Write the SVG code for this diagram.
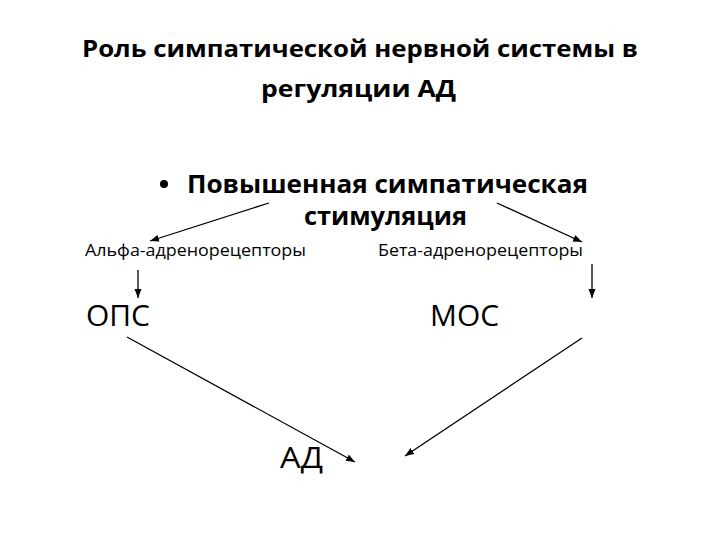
<svg xmlns="http://www.w3.org/2000/svg" width="720" height="540" viewBox="0 0 720 540">
  <style>
    text { font-family: "Open Sans", "Noto Sans", "Liberation Sans", sans-serif; fill: #000; }
    .title { font-size: 24px; font-weight: 700; }
    .bullet { font-size: 25px; font-weight: 700; }
    .rec { font-size: 16px; }
    .big { font-size: 29px; }
    .conn line { stroke: #000; stroke-width: 1.3; fill: none; marker-end: url(#arrow); }
  </style>
  <defs>
    <marker id="arrow" markerUnits="userSpaceOnUse" markerWidth="10" markerHeight="8" refX="9" refY="3.5" orient="auto">
      <path d="M0,0 L9,3.5 L0,7 z" fill="#000"/>
    </marker>
  </defs>
  <rect width="720" height="540" fill="#fff"/>

  <g id="title">
    <text class="title" x="82" y="57" textLength="556" lengthAdjust="spacingAndGlyphs">Роль симпатической нервной системы в</text>
    <text class="title" x="261" y="97" textLength="195" lengthAdjust="spacingAndGlyphs">регуляции АД</text>
  </g>

  <g id="stimulation">
    <circle cx="164" cy="184" r="4" fill="#000"/>
    <text class="bullet" x="187" y="193" textLength="401" lengthAdjust="spacingAndGlyphs">Повышенная симпатическая</text>
    <text class="bullet" x="304" y="225" textLength="163" lengthAdjust="spacingAndGlyphs">стимуляция</text>
  </g>

  <g id="alpha">
    <text class="rec" x="85" y="256" textLength="221" lengthAdjust="spacingAndGlyphs">Альфа-адренорецепторы</text>
  </g>

  <g id="beta">
    <text class="rec" x="378" y="256" textLength="205" lengthAdjust="spacingAndGlyphs">Бета-адренорецепторы</text>
  </g>

  <g id="ops">
    <text class="big" x="86" y="326" textLength="64" lengthAdjust="spacingAndGlyphs">ОПС</text>
  </g>

  <g id="mos">
    <text class="big" x="430" y="326" textLength="69" lengthAdjust="spacingAndGlyphs">МОС</text>
  </g>

  <g id="ad">
    <text class="big" x="280" y="468" textLength="43" lengthAdjust="spacingAndGlyphs">АД</text>
  </g>

  <g id="connectors" class="conn">
    <line x1="269" y1="203" x2="150" y2="241"/>
    <line x1="497" y1="203" x2="582" y2="242"/>
    <line x1="138" y1="270" x2="138" y2="298"/>
    <line x1="592" y1="264" x2="592" y2="298"/>
    <line x1="127" y1="337" x2="355" y2="462"/>
    <line x1="582" y1="338" x2="405" y2="456"/>
  </g>
</svg>
